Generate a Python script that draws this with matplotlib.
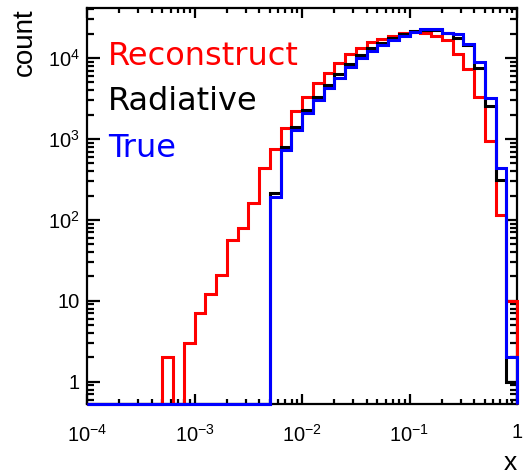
import numpy as np
import matplotlib
matplotlib.use('Agg')
import matplotlib.pyplot as plt
from matplotlib.ticker import LogLocator, FixedLocator, FuncFormatter, NullFormatter

plt.rcParams['mathtext.fontset'] = 'custom'
plt.rcParams['mathtext.rm'] = 'Liberation Sans'
plt.rcParams['mathtext.it'] = 'Liberation Sans:italic'
plt.rcParams['mathtext.bf'] = 'Liberation Sans:bold'
plt.rcParams['font.family'] = ['Liberation Sans', 'DejaVu Sans']

# 40 log-spaced bins from 1e-4 to 1 (10 per decade)
x_min_exp, x_max_exp, n_bins = -4, 0, 40
edges = np.logspace(x_min_exp, x_max_exp, n_bins + 1)

reconstruct = [0, 0, 0, 0, 0, 0, 0, 2, 0, 3,
               7, 12, 21, 56, 79, 163, 434, 746, 1356, 2218,
               3334, 4878, 6486, 8700, 11130, 13500, 15600, 17300, 19000, 20300,
               21300, 20300, 19000, 16500, 11300, 7300, 3334, 950, 115, 10]
radiative = [0, 0, 0, 0, 0, 0, 0, 0, 0, 0,
             0, 0, 0, 0, 0, 0, 0, 217, 803, 1420,
             2280, 3335, 4650, 6300, 8500, 10800, 13200, 15500, 17800, 19800,
             21500, 22500, 22500, 20200, 17600, 14500, 7480, 2560, 311, 1]
true_vals = [0, 0, 0, 0, 0, 0, 0, 0, 0, 0,
             0, 0, 0, 0, 0, 0, 0, 194, 728, 1280,
             2080, 3035, 4235, 5700, 7700, 9900, 12200, 14500, 16800, 19000,
             21000, 22700, 22800, 20500, 19800, 14800, 8900, 3200, 434, 2]

series_names = ['Reconstruct', 'Radiative', 'True']
series_colors = ['#ff0000', '#000000', '#0000ff']

y_lo, y_hi = 0.53, 41600

fig = plt.figure(figsize=(5.26, 4.76), dpi=100)
ax = fig.add_axes([87/526, 1-404/476, (517-87)/526, (404-8)/476])

for vals, col in zip([reconstruct, radiative, true_vals], series_colors):
    v = np.array(vals, dtype=float)
    v = np.where(v > 0, v, y_lo)
    ax.stairs(v, edges, baseline=y_lo, color=col, lw=2.2, clip_on=False, zorder=3)

ax.set_xscale('log')
ax.set_yscale('log')
ax.set_xlim(10.0**x_min_exp, 10.0**x_max_exp)
ax.set_ylim(y_lo, y_hi)

def xfmt(v, pos):
    e = int(round(np.log10(v)))
    if e == 0:
        return '1'
    return r'$\mathdefault{10^{%d}}$' % e

def yfmt(v, pos):
    e = int(round(np.log10(v)))
    if e == 0:
        return '1'
    if e == 1:
        return '10'
    return r'$\mathdefault{10^{%d}}$' % e

ax.xaxis.set_major_locator(FixedLocator([1e-4, 1e-3, 1e-2, 1e-1, 1]))
ax.xaxis.set_minor_locator(LogLocator(base=10, subs=np.arange(2, 10), numticks=20))
ax.xaxis.set_major_formatter(FuncFormatter(xfmt))
ax.xaxis.set_minor_formatter(NullFormatter())
ax.yaxis.set_major_locator(FixedLocator([1, 10, 100, 1000, 10000]))
ax.yaxis.set_minor_locator(LogLocator(base=10, subs=np.arange(2, 10), numticks=20))
ax.yaxis.set_major_formatter(FuncFormatter(yfmt))
ax.yaxis.set_minor_formatter(NullFormatter())

for s in ax.spines.values():
    s.set_linewidth(1.6)
ax.tick_params(which='both', direction='in', top=True, right=True, width=1.6, colors='black')
ax.tick_params(axis='x', which='major', length=7, labelsize=14.5, pad=14)
ax.tick_params(axis='x', which='minor', length=3.5)
ax.tick_params(axis='y', which='major', length=9, labelsize=14.5, pad=5)
ax.tick_params(axis='y', which='minor', length=5)

ax.set_ylabel('count', fontsize=20, loc='top', labelpad=7)
ax.set_xlabel('x', fontsize=19, loc='right', labelpad=4)

ty = [0.856, 0.742, 0.624]
for name, col, y in zip(series_names, series_colors, ty):
    ax.text(0.048, y, name, color=col, fontsize=23, family='DejaVu Sans',
            transform=ax.transAxes, va='baseline', ha='left')

fig.savefig('out.png', dpi=100)
